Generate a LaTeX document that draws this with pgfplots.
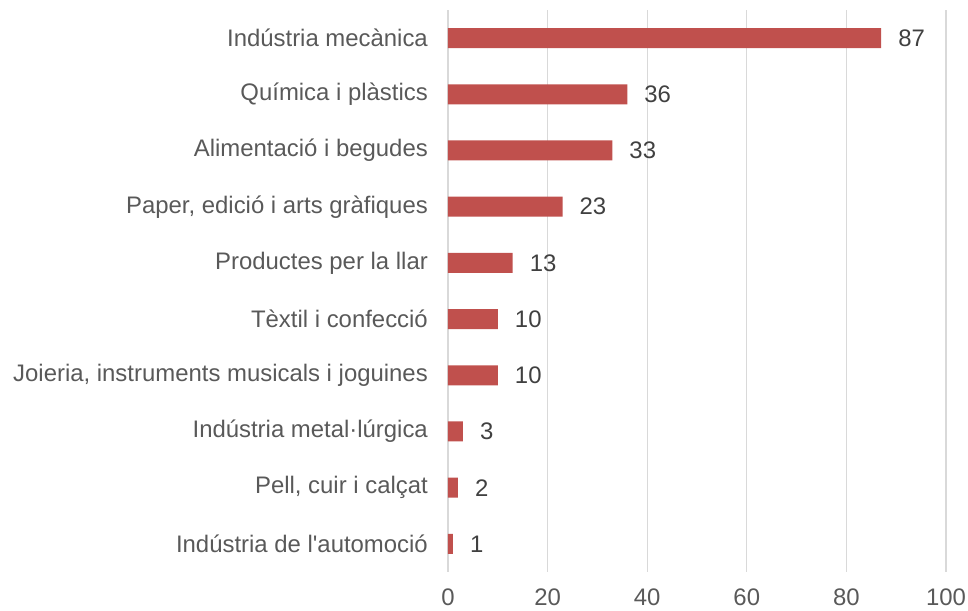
\documentclass[border=0pt]{standalone}
\usepackage{fontspec}
\setmainfont{Liberation Sans}
\usepackage{pgfplots}
\pgfplotsset{compat=1.18}
\definecolor{barRed}{HTML}{C0504D}
\definecolor{gridGray}{HTML}{D9D9D9}
\definecolor{txtGray}{HTML}{595959}
\definecolor{valGray}{HTML}{404040}

\begin{document}
\fontsize{24}{28}\selectfont
\begin{tikzpicture}[x=1bp,y=1bp]
\begin{axis}[
  scale only axis,width=498bp,height=562bp,
  xbar,bar width=20bp,
  xmin=0,xmax=100,ymin=-0.5,ymax=9.5,
  xtick={0,20,40,60,80,100},
  ytick={0,...,9},
  yticklabels={Indústria de l\textquotesingle automoció,{Pell, cuir i calçat},Indústria metal·lúrgica,{Joieria, instruments musicals i joguines},Tèxtil i confecció,Productes per la llar,{Paper, edició i arts gràfiques},Alimentació i begudes,Química i plàstics,Indústria mecànica},
  axis line style={draw=none},
  major tick length=0pt,
  xmajorgrids,grid style={gridGray,line width=1.3bp},
  tick label style={txtGray,font=\fontsize{24}{28}\selectfont},
  /pgf/number format/assume math mode=true,
  xticklabel style={yshift=-9bp},
  yticklabel style={xshift=-12bp},
  nodes near coords,
  nodes near coords style={valGray,anchor=west,xshift=9bp,font=\fontsize{24}{28}\selectfont},
]
\addplot[fill=barRed,draw=none] coordinates {
(1,0) (2,1) (3,2) (10,3) (10,4) (13,5) (23,6) (33,7) (36,8) (87,9)};
\coordinate (ll) at (rel axis cs:-0.8996,-0.0694);
\coordinate (ur) at (rel axis cs:1.0442,1.0178);
\end{axis}
\pgfresetboundingbox
\useasboundingbox (ll) rectangle (ur);
\end{tikzpicture}
\end{document}
